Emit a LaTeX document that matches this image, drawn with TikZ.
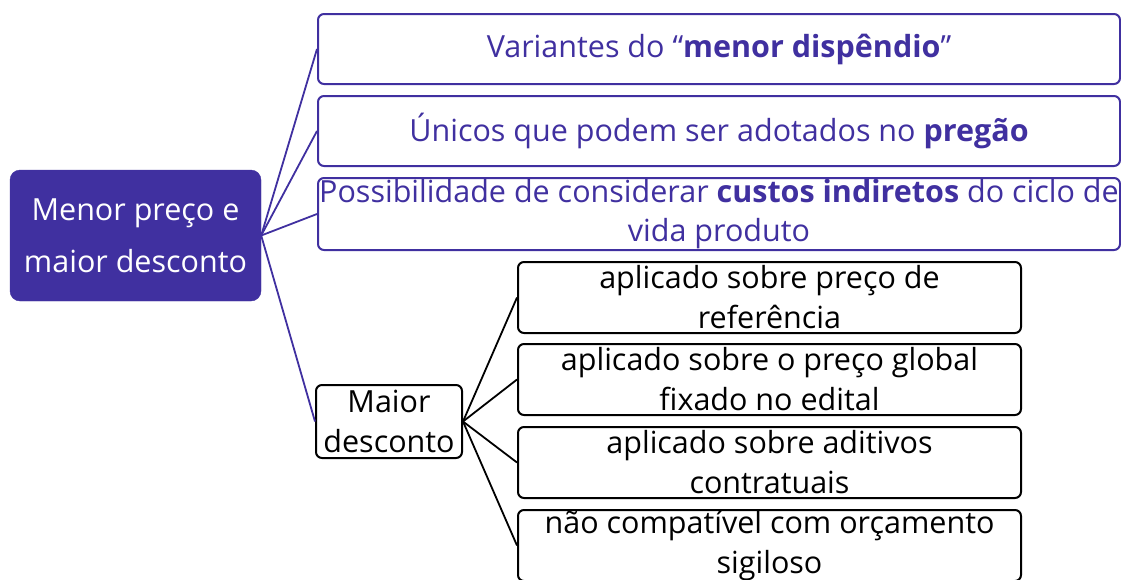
\documentclass[tikz,border=0pt]{standalone}
\usepackage{fontspec}
\setmainfont{Open Sans}
\usepackage{tikz}

\definecolor{roxo}{RGB}{64,48,160}

\begin{document}
\begin{tikzpicture}[x=1pt, y=-1pt,
        raiz/.style={fill=roxo, draw=roxo, rounded corners=10pt, text=white, align=center,
                     minimum width=251pt, minimum height=131pt, inner sep=0pt,
                     font=\fontsize{30.5}{52}\selectfont},
        caixaroxa/.style={draw=roxo, line width=2pt, fill=white, rounded corners=6pt, text=roxo,
                     align=center, minimum width=802pt, minimum height=70pt, inner sep=0pt,
                     font=\fontsize{30.5}{39}\selectfont},
        caixapreta/.style={draw=black, line width=2pt, fill=white, rounded corners=6pt, text=black,
                     align=center, minimum height=71pt, inner sep=0pt,
                     font=\fontsize{30.5}{40}\selectfont},
        ligaroxa/.style={draw=roxo, line width=1.8pt},
        ligapreta/.style={draw=black, line width=1.8pt}]
                \useasboundingbox (0, 0) rectangle (1121, 579);
                \node[raiz] (raiz) at (135.5, 235.5) {Menor preço e\\maior desconto};
                \node[caixaroxa] (variantes) at (719, 49) {Variantes do “\textbf{menor dispêndio}”};
                \node[caixaroxa] (unicos) at (719, 131) {Únicos que podem ser adotados no \textbf{pregão}};
                \node[caixaroxa, minimum height=72pt] (custos) at (719, 214)
                        {Possibilidade de considerar \textbf{custos indiretos} do ciclo de\\vida produto};
                \node[caixapreta, minimum width=146pt, minimum height=73pt] (maior) at (389, 421.5) {Maior\\desconto};
                \node[caixapreta, minimum width=503pt] (ref) at (769.5, 297.5) {aplicado sobre preço de\\referência};
                \node[caixapreta, minimum width=503pt] (global) at (769.5, 379.5) {aplicado sobre o preço global\\fixado no edital};
                \node[caixapreta, minimum width=503pt] (aditivos) at (769.5, 462.5) {aplicado sobre aditivos\\contratuais};
                \node[caixapreta, minimum width=503pt] (sigiloso) at (769.5, 545.5) {não compatível com orçamento\\sigiloso};
                \foreach \alvo in {variantes, unicos, custos, maior}
                        \draw[ligaroxa] (raiz.east) -- (\alvo.west);
                \foreach \alvo in {ref, global, aditivos, sigiloso}
                        \draw[ligapreta] (maior.east) -- (\alvo.west);
\end{tikzpicture}
\end{document}
